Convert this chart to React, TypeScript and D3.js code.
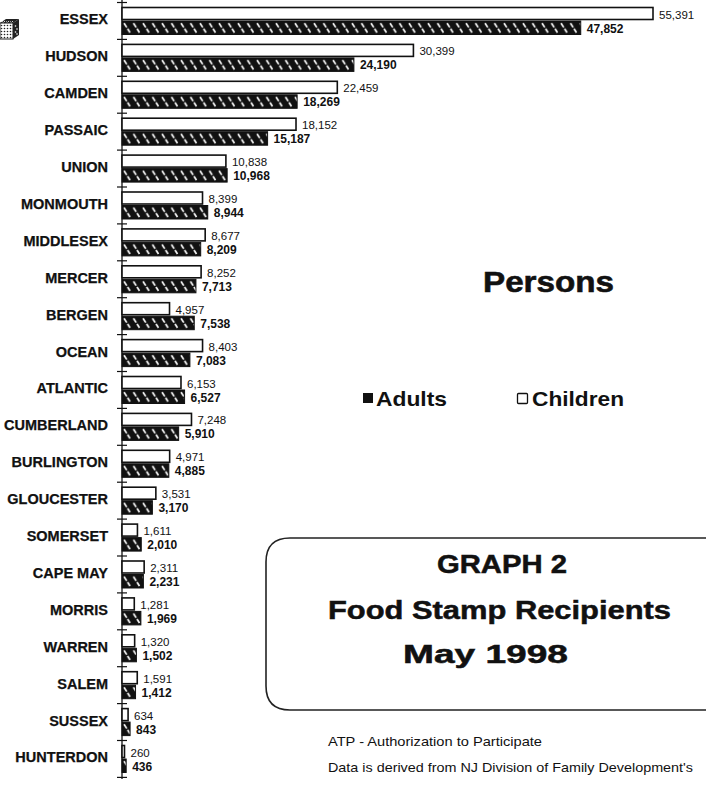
import React from "react";
import * as d3 from "d3";

const categories = [
  "ESSEX", "HUDSON", "CAMDEN", "PASSAIC", "UNION", "MONMOUTH", "MIDDLESEX",
  "MERCER", "BERGEN", "OCEAN", "ATLANTIC", "CUMBERLAND", "BURLINGTON",
  "GLOUCESTER", "SOMERSET", "CAPE MAY", "MORRIS", "WARREN", "SALEM",
  "SUSSEX", "HUNTERDON",
];
const childrenValues = [
  55391, 30399, 22459, 18152, 10838, 8399, 8677, 8252, 4957, 8403, 6153,
  7248, 4971, 3531, 1611, 2311, 1281, 1320, 1591, 634, 260,
];
const adultValues = [
  47852, 24190, 18269, 15187, 10968, 8944, 8209, 7713, 7538, 7083, 6527,
  5910, 4885, 3170, 2010, 2231, 1969, 1502, 1412, 843, 436,
];
const legendLabels = ["Adults", "Children"];
const titleLines = ["GRAPH 2", "Food Stamp Recipients", "May 1998"];
const noteLines = [
  "ATP - Authorization to Participate",
  "Data is derived from NJ Division of Family Development's",
];

const FONT = "'Liberation Sans', Arial, Helvetica, sans-serif";
const fmt = d3.format(",");

export default function App() {
  const W = 706;
  const H = 785;
  const x = d3.scaleLinear().domain([0, 55391]).range([122, 653]);
  const y = d3
    .scaleBand<string>()
    .domain(categories)
    .range([2.5, 777.4])
    .paddingInner(0)
    .paddingOuter(0);
  const bw = y.bandwidth();
  const tickYs = categories.map((c) => y(c) as number).concat([777.4]);

  return (
    <svg
      width={W}
      height={H}
      style={{ position: "absolute", left: 0, top: 0, background: "#fff" }}
      fontFamily={FONT}
    >
      <defs>
        {categories.map((c, i) => (
          <pattern
            key={"p" + i}
            id={"hatch" + i}
            x={122}
            y={(y(c) as number) + 18.5}
            width="9.5"
            height="13.5"
            patternUnits="userSpaceOnUse"
          >
            <rect width="9.5" height="13.5" fill="#111" />
            <path d="M2,2.2 L8,11.5" stroke="#fff" strokeWidth="1.7" strokeDasharray="5,1.6" />
          </pattern>
        ))}
        <pattern id="dots" width="3" height="3" patternUnits="userSpaceOnUse">
          <rect width="3" height="3" fill="#fff" />
          <circle cx="1.5" cy="1.5" r="0.8" fill="#222" />
        </pattern>
      </defs>
      <rect width={W} height={H} fill="#fff" />

      {/* small cube icon */}
      <g>
        <path d="M0,23 L6,19 L19,19 L13,23 Z" fill="#222" />
        <path d="M2,21.5 L3.5,22.5 L5,21 M6,21.5 L7.5,22.5 L9,21 M10,21.5 L11.5,22.5 L13,21" stroke="#fff" strokeWidth="0.8" fill="none" />
        <rect x="0" y="23" width="13" height="16" fill="url(#dots)" stroke="#222" strokeWidth="1" />
        <path d="M13,23 L19,19 L19,35 L13,39 Z" fill="#222" />
        <circle cx="15.5" cy="26" r="0.8" fill="#fff" />
        <circle cx="17" cy="29" r="0.8" fill="#fff" />
        <circle cx="15.5" cy="32" r="0.8" fill="#fff" />
        <circle cx="17" cy="34" r="0.8" fill="#fff" />
      </g>

      {/* axis */}
      <line x1={122} x2={122} y1={0} y2={779} stroke="#111" strokeWidth={1.3} />
      {tickYs.map((t, i) => (
        <line key={"t" + i} x1={117} x2={127} y1={t} y2={t} stroke="#111" strokeWidth={1.2} />
      ))}

      {categories.map((c, i) => {
        const top = y(c) as number;
        const cv = childrenValues[i];
        const av = adultValues[i];
        const cx1 = x(cv);
        const ax1 = x(av);
        return (
          <g key={c}>
            <text
              x={108}
              y={top + bw / 2 - 1.5}
              textAnchor="end"
              dominantBaseline="central"
              fontSize={14.5}
              fontWeight="bold"
              fill="#111"
              stroke="#111"
              strokeWidth={0.25}
            >
              {c}
            </text>
            <rect
              x={x(0)}
              y={top + 5}
              width={Math.max(cx1 - x(0), 1.5)}
              height={12}
              fill="#fff"
              stroke="#111"
              strokeWidth={1.6}
            />
            <rect
              x={x(0)}
              y={top + 18.5}
              width={Math.max(ax1 - x(0), 3)}
              height={13.5}
              fill={`url(#hatch${i})`}
              stroke="#111"
              strokeWidth={1}
            />
            <text x={Math.max(cx1, x(0) + 2) + 6} y={top + 16} fontSize={11.5} fill="#111">
              {fmt(cv)}
            </text>
            <text x={Math.max(ax1, x(0) + 3) + 6} y={top + 30} fontSize={12} fontWeight="bold" fill="#111">
              {fmt(av)}
            </text>
          </g>
        );
      })}

      {/* Persons */}
      <text x={483} y={292} fontSize={30} fontWeight="bold" fill="#111" stroke="#111" strokeWidth={0.6}
        textLength={131} lengthAdjust="spacingAndGlyphs">
        Persons
      </text>

      {/* legend */}
      <rect x={363} y={393} width={10} height={10} fill="#111" />
      <text x={376} y={406} fontSize={21} fontWeight="bold" fill="#111" textLength={71} lengthAdjust="spacingAndGlyphs">
        {legendLabels[0]}
      </text>
      <rect x={517.5} y={393.5} width={10} height={10} fill="#fff" stroke="#111" strokeWidth={1.3} rx={1} />
      <text x={532} y={406} fontSize={21} fontWeight="bold" fill="#111" textLength={92} lengthAdjust="spacingAndGlyphs">
        {legendLabels[1]}
      </text>

      {/* title box */}
      <path
        d="M730,538 L290,538 Q266,538 266,562 L266,686 Q266,710 290,710 L730,710"
        fill="none"
        stroke="#222"
        strokeWidth={1.6}
      />
      <text x={437} y={573} fontSize={25} fontWeight="bold" fill="#111" stroke="#111" strokeWidth={0.5}
        textLength={130} lengthAdjust="spacingAndGlyphs">
        {titleLines[0]}
      </text>
      <text x={328} y={619} fontSize={25} fontWeight="bold" fill="#111" stroke="#111" strokeWidth={0.5}
        textLength={343} lengthAdjust="spacingAndGlyphs">
        {titleLines[1]}
      </text>
      <text x={403} y={663} fontSize={25} fontWeight="bold" fill="#111" stroke="#111" strokeWidth={0.5}
        textLength={165} lengthAdjust="spacingAndGlyphs">
        {titleLines[2]}
      </text>

      {/* notes */}
      <text x={328} y={746} fontSize={13} fill="#111" textLength={214} lengthAdjust="spacingAndGlyphs">
        {noteLines[0]}
      </text>
      <text x={328} y={772} fontSize={13} fill="#111" textLength={365} lengthAdjust="spacingAndGlyphs">
        {noteLines[1]}
      </text>
    </svg>
  );
}
